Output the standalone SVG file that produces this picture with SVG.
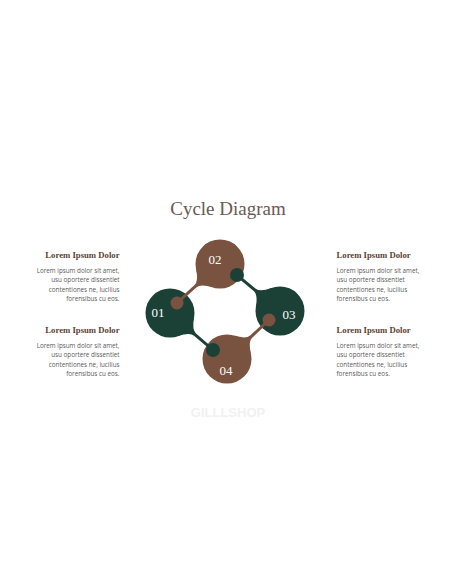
<svg xmlns="http://www.w3.org/2000/svg" width="456" height="586" viewBox="0 0 456 586">
<style>
.brown{fill:#7a5340}
.green{fill:#1b4137}
.num{font-family:"Liberation Serif","DejaVu Serif",serif;font-size:13px;fill:#ffffff;text-anchor:middle}
.title{font-family:"Liberation Serif","DejaVu Serif",serif;font-size:19px;fill:#6b5a52;text-anchor:middle}
.head{font-family:"Liberation Serif","DejaVu Serif",serif;font-size:8.7px;font-weight:bold;fill:#5b3f33}
.body{font-family:"Open Sans","Liberation Sans",sans-serif;font-size:6.3px;fill:#5a5a5a}
.r{text-anchor:end}
.wm{font-family:"Liberation Sans",Arial,sans-serif;font-size:13px;font-weight:bold;fill:#f1f1f1;text-anchor:middle}
</style>
<rect width="456" height="586" fill="#ffffff"/>
<text class="title" x="228" y="215">Cycle Diagram</text>
<g id="node-01"><circle class="green" cx="170" cy="313" r="24.5"/></g>
<g id="node-02"><circle class="brown" cx="220" cy="264" r="24.5"/></g>
<g id="node-03"><circle class="green" cx="280" cy="311" r="24.5"/></g>
<g id="node-04"><circle class="brown" cx="227" cy="359" r="24.5"/></g>
<g id="connectors">
<path class="brown" d="M212.5,287.3 Q200.7,283.5 196.6,287.3 L178,304.1 L176,301.9 L194.5,285.1 Q198.7,281.3 196.05,269.2 Z"/>
<circle class="brown" cx="177" cy="303" r="6.5"/>
<path class="green" d="M255.9,306.8 Q258,294.6 253.7,291 L236,276.2 L238,273.9 L255.7,288.7 Q260,292.3 271.6,288 Z"/>
<circle class="green" cx="237" cy="275" r="7"/>
<path class="brown" d="M234.2,335.6 Q246.1,339.3 250.2,335.5 L268,318.9 L270,321.1 L252.2,337.7 Q248.1,341.5 250.9,353.5 Z"/>
<circle class="brown" cx="269" cy="320" r="6.5"/>
<path class="green" d="M194.1,317.6 Q191.8,329.7 196,333.4 L214,348.9 L212,351.1 L194,335.7 Q189.8,332 178.1,336.1 Z"/>
<circle class="green" cx="213" cy="350" r="7"/>
</g>
<text class="num" x="158" y="317">01</text>
<text class="num" x="215" y="264">02</text>
<text class="num" x="289" y="319">03</text>
<text class="num" x="226" y="375">04</text>
<g id="text-tl">
<text class="head r" x="119.5" y="258">Lorem Ipsum Dolor</text>
<text class="body r" x="119.5" y="272.5">Lorem ipsum dolor sit amet,</text>
<text class="body r" x="119.5" y="282">usu oportere dissentiet</text>
<text class="body r" x="119.5" y="291.5">contentiones ne, lucilius</text>
<text class="body r" x="119.5" y="301">forensibus cu eos.</text>
</g>
<g id="text-bl">
<text class="head r" x="119.5" y="333">Lorem Ipsum Dolor</text>
<text class="body r" x="119.5" y="347.5">Lorem ipsum dolor sit amet,</text>
<text class="body r" x="119.5" y="357">usu oportere dissentiet</text>
<text class="body r" x="119.5" y="366.5">contentiones ne, lucilius</text>
<text class="body r" x="119.5" y="376">forensibus cu eos.</text>
</g>
<g id="text-tr">
<text class="head" x="336.5" y="258">Lorem Ipsum Dolor</text>
<text class="body" x="336.5" y="272.5">Lorem ipsum dolor sit amet,</text>
<text class="body" x="336.5" y="282">usu oportere dissentiet</text>
<text class="body" x="336.5" y="291.5">contentiones ne, lucilius</text>
<text class="body" x="336.5" y="301">forensibus cu eos.</text>
</g>
<g id="text-br">
<text class="head" x="336.5" y="333">Lorem Ipsum Dolor</text>
<text class="body" x="336.5" y="347.5">Lorem ipsum dolor sit amet,</text>
<text class="body" x="336.5" y="357">usu oportere dissentiet</text>
<text class="body" x="336.5" y="366.5">contentiones ne, lucilius</text>
<text class="body" x="336.5" y="376">forensibus cu eos.</text>
</g>
<text class="wm" x="228" y="417">GILLLSHOP</text>
</svg>
